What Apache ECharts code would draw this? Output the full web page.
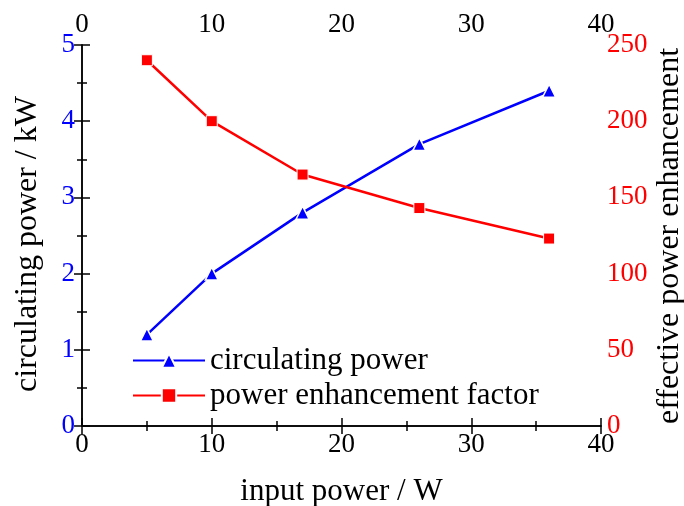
<!DOCTYPE html>
<html>
<head>
<meta charset="utf-8">
<script src="https://cdn.jsdelivr.net/npm/echarts@6/dist/echarts.min.js"></script>
<style>
  html, body { margin: 0; padding: 0; background: #fff; }
  #chart { width: 684px; height: 506px; }
</style>
</head>
<body>
<div id="chart"></div>
<script>
// input power (W)
var inputPower = [5, 10, 17, 26, 36];
// circulating power (kW)
var circulatingPower = [1.2, 2.0, 2.8, 3.7, 4.4];
// power enhancement factor
var enhancementFactor = [240, 200, 165, 143, 123];

var font = "Liberation Serif";

function pairs(xs, ys) {
  var out = [];
  for (var i = 0; i < xs.length; i++) {
    out.push([xs[i], ys[i]]);
  }
  return out;
}

function axisCfg(pos, max, interval, color, margin) {
  return {
    type: "value",
    position: pos,
    min: 0,
    max: max,
    interval: interval,
    axisLine: { show: true, lineStyle: { color: "#000", width: 1.5 } },
    axisTick: { show: true, inside: true, length: 8, lineStyle: { color: "#000", width: 1.5 } },
    minorTick: { show: true, splitNumber: 2, length: 5, lineStyle: { color: "#000", width: 1.5 } },
    splitLine: { show: false },
    axisLabel: { color: color, fontFamily: font, fontSize: 27, margin: margin },
  };
}

var chart = echarts.init(document.getElementById("chart"));

var bottomAxis = axisCfg("bottom", 40, 10, "#000", 5);
bottomAxis.name = "input power / W";
bottomAxis.nameLocation = "middle";
bottomAxis.nameGap = 50;
bottomAxis.nameTextStyle = { color: "#000", fontFamily: font, fontSize: 31 };

var option = {
  backgroundColor: "#fff",
  animation: false,
  grid: {
    left: 82,
    right: 83,
    top: 45,
    bottom: 80,
    containLabel: false,
    outerBoundsMode: "none",
  },
  xAxis: [bottomAxis, axisCfg("top", 40, 10, "#000", 7)],
  yAxis: [
    axisCfg("left", 5, 1, "#0000ff", 7),
    axisCfg("right", 250, 50, "#ff0000", 6),
  ],
  legend: {
    orient: "vertical",
    left: 127,
    top: 340,
    itemWidth: 72,
    itemHeight: 18,
    itemGap: 4,
    textStyle: { color: "#000", fontFamily: font, fontSize: 31 },
    data: ["circulating power", "power enhancement factor"],
  },
  graphic: [
    {
      type: "text",
      x: 28,
      y: 244,
      rotation: Math.PI / 2,
      style: {
        text: "circulating power / kW",
        fill: "#000",
        font: "32px 'Liberation Serif'",
        align: "center",
        verticalAlign: "middle",
      },
    },
    {
      type: "text",
      x: 670,
      y: 236,
      rotation: Math.PI / 2,
      style: {
        text: "effective power enhancement",
        fill: "#000",
        font: "32px 'Liberation Serif'",
        align: "center",
        verticalAlign: "middle",
      },
    },
  ],
  series: [
    {
      name: "circulating power",
      type: "line",
      xAxisIndex: 0,
      yAxisIndex: 0,
      data: pairs(inputPower, circulatingPower),
      symbol: "triangle",
      symbolSize: 13,
      itemStyle: { color: "#0000ff", borderColor: "#fff", borderWidth: 1.5 },
      lineStyle: { color: "#0000ff", width: 2.5 },
    },
    {
      name: "power enhancement factor",
      type: "line",
      xAxisIndex: 0,
      yAxisIndex: 1,
      data: pairs(inputPower, enhancementFactor),
      symbol: "rect",
      symbolSize: 11,
      itemStyle: { color: "#ff0000", borderColor: "#fff", borderWidth: 1 },
      lineStyle: { color: "#ff0000", width: 2.5 },
    },
  ],
};

chart.setOption(option);
</script>
</body>
</html>
